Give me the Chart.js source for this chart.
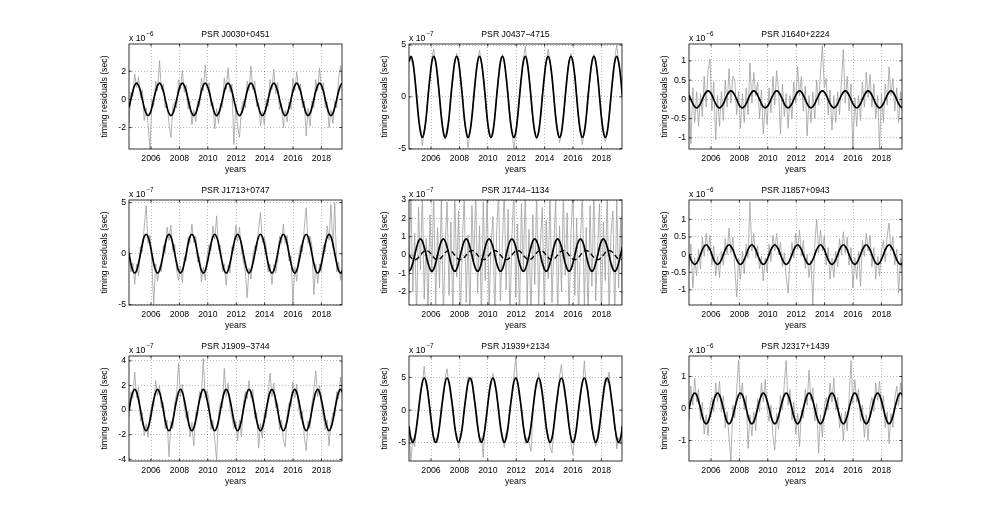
<!DOCTYPE html>
<html><head><meta charset="utf-8">
<script src="https://cdn.jsdelivr.net/npm/chart.js@4/dist/chart.umd.min.js"></script>
<style>
html,body{margin:0;padding:0;background:#fff;}
#wrap{position:relative;width:997px;height:520px;overflow:hidden;background:#fff;}
canvas{position:absolute;}
</style></head><body><div id="wrap"></div>
<script>
// ---------- DATA ----------
const obsYears = [
2004.45,2004.58,2004.72,2004.85,2004.99,2005.12,2005.26,2005.39,2005.52,2005.66,2005.79,2005.93,
2006.06,2006.19,2006.33,2006.46,2006.60,2006.73,2006.87,2007.00,2007.13,2007.27,2007.40,2007.54,
2007.67,2007.81,2007.94,2008.07,2008.21,2008.34,2008.48,2008.61,2008.74,2008.88,2009.01,2009.15,
2009.28,2009.42,2009.55,2009.68,2009.82,2009.95,2010.09,2010.22,2010.36,2010.49,2010.62,2010.76,
2010.89,2011.03,2011.16,2011.29,2011.43,2011.56,2011.70,2011.83,2011.97,2012.10,2012.23,2012.37,
2012.50,2012.64,2012.77,2012.90,2013.04,2013.17,2013.31,2013.44,2013.58,2013.71,2013.84,2013.98,
2014.11,2014.25,2014.38,2014.52,2014.65,2014.78,2014.92,2015.05,2015.19,2015.32,2015.45,2015.59,
2015.72,2015.86,2015.99,2016.13,2016.26,2016.39,2016.53,2016.66,2016.80,2016.93,2017.06,2017.20,
2017.33,2017.47,2017.60,2017.74,2017.87,2018.00,2018.14,2018.27,2018.41,2018.54,2018.67,2018.81,
2018.94,2019.08,2019.21,2019.35,2019.48];

const xTicks = [2006,2008,2010,2012,2014,2016,2018];
const xLim = [2004.45, 2019.45];

const pulsarNames = ['PSR J0030+0451','PSR J0437\u22124715','PSR J1640+2224',
                     'PSR J1713+0747','PSR J1744\u22121134','PSR J1857+0943',
                     'PSR J1909\u22123744','PSR J1939+2134','PSR J2317+1439'];
const exponents = [-6,-7,-6,-7,-7,-6,-7,-7,-6];

const yTicksJ0030 = [-2,0,2];           const yLimJ0030 = [-3.52,3.93];
const yTicksJ0437 = [-5,0,5];           const yLimJ0437 = [-5.02,5.1];
const yTicksJ1640 = [-1,-0.5,0,0.5,1];  const yLimJ1640 = [-1.29,1.44];
const yTicksJ1713 = [-5,0,5];           const yLimJ1713 = [-5.02,5.25];
const yTicksJ1744 = [-2,-1,0,1,2,3];    const yLimJ1744 = [-2.72,3.0];
const yTicksJ1857 = [-1,-0.5,0,0.5,1];  const yLimJ1857 = [-1.43,1.55];
const yTicksJ1909 = [-4,-2,0,2,4];      const yLimJ1909 = [-4.14,4.4];
const yTicksJ1939 = [-5,0,5];           const yLimJ1939 = [-7.75,8.25];
const yTicksJ2317 = [-1,0,1];           const yLimJ2317 = [-1.64,1.64];

// timing residuals (grey), in units of 10^exponent
const resJ0030 = [
-1.8,.5,.2,1.8,.85,1.6,.1,.7,-1.5,-.6,-1.75,-3.5,
0,-.5,1.3,.6,2.75,.7,1.1,-.6,-.3,-1.7,-2.7,-.5,
-.2,-.6,1.4,.7,2.05,.5,1,-.7,-.1,-1.8,-.75,-1.6,
-.1,-.5,1.5,.6,2.45,.8,1.2,-.5,-.2,-2.1,-.65,-1.7,
-.3,-.6,1.5,.7,2.25,.5,1.1,-3.2,-.4,-1.9,-2.7,-.6,
-.1,-.6,1.3,.6,2.35,.7,1.3,-.5,-.2,-1.9,-.85,-1.8,
0,-.5,1.4,.7,2.15,.4,1.2,-.7,-.3,-2,-.75,-1.6,
-.2,-.7,1.5,.6,1.95,.7,1.1,-.6,-.1,-2.6,-.65,-1.9,
-.1,-.6,1.4,.6,2.25,.7,1.2,-.6,-.2,-2,-.75,-1.7,
-.1,-.6,1.5,2.4,.85];
const resJ0437 = [
3.6,3.7,3.1,2.3,-.3,-2.2,-3.1,-4.7,-3.2,-2.2,.3,1.7,
3.7,4.6,3.1,2.2,-.2,-1.7,-3.6,-4.1,-3,-2.3,.4,1.8,
3.2,4.2,3.6,1.7,.3,-2.2,-3.2,-4.9,-3.5,-1.7,-.3,2.2,
3.6,4.5,3.2,2.1,-.2,-2.1,-3.6,-4,-3.1,-2.2,.2,1.7,
3.2,4.1,3.6,1.8,.3,-1.8,-3.2,-5,-3.6,-1.8,-.2,2.1,
3.6,4.9,3.1,2.2,-.3,-2.2,-3.5,-4.1,-3.2,-2.1,.3,1.8,
3.3,4.6,3.5,1.7,.2,-1.8,-3.2,-4.4,-3.6,-1.8,-.2,2.2,
3.5,4.2,3.2,2.1,-.3,-2.1,-3.6,-4.6,-3.1,-2.2,.3,1.8,
3.2,4.1,3.6,1.8,.2,-1.8,-3.2,-4.3,-3.5,-1.7,-.2,2.2,
3.7,5,3.3,2.1,.1];
const resJ1640 = [
.4,-1.15,.3,-.6,.2,-.7,.15,-.45,.6,-.2,.75,1.05,
-.3,.45,-1.05,.1,-.7,.2,-.55,.5,-.2,.8,-.1,.6,
.5,-.4,.2,-.75,.15,-.6,.3,-.4,.95,-.1,.7,.1,
.45,-.5,.25,-.9,-.1,-.65,.3,-.35,.6,-.15,.75,.2,
-.9,.4,-.45,.15,-.75,.1,-.5,.45,-.1,.85,.1,.6,
-.3,.35,-.95,.1,-.6,.2,-.5,.5,-.15,.7,1.4,.3,
.55,-.4,.25,-.8,.1,-.6,.2,-.4,.5,1.3,-.1,.6,
-.3,.4,-1.35,.05,-.7,.1,-.55,.45,-.2,.7,.05,.65,
-.2,.4,-.5,.1,-1.3,.15,-.6,.4,-.15,.85,.1,.55,
-.3,.3,-.6,.2,-.4];
const resJ1713 = [
.6,-1.8,-.9,-3,-1,-2.2,.7,.2,2.6,4.7,1,1.8,
-.8,-5,-1,-2.7,-1.2,-1.8,.8,.1,2.6,1.3,2.8,.2,
.9,-1.7,-2.6,-1.2,-2.8,-.3,-.7,1.6,1,2.9,1.1,1.7,
-.8,-.3,-2.8,-1.3,-2.6,-.2,.9,.3,2.7,1.4,3.7,.4,
.8,-1.8,-1,-3.1,-1.1,-1.9,.7,.3,2.8,1.2,2.6,.3,
-.8,-1.7,-4.3,-1.4,-2.5,-.3,.8,.3,2.5,4,1.1,1.6,
.7,-1.8,-1,-3,-1.1,-1.9,-.6,1.7,1,2.9,1,1.8,
-.7,-.2,-4.8,-1.3,-2.7,-.3,.8,.2,2.6,4.5,1,1.7,
.8,-4,-1,-2.9,-1,-1.8,.8,.2,2.7,1.3,4.8,.5,
5,-1.8,-.8,-2.6,-1.2];
const resJ1744 = [
-1.5,3.4,-2,1.2,-3.5,2.6,-.8,3.5,-2.4,.9,-3.2,2.2,
-1,3.5,-2.8,1.5,-1.8,3.3,-3.5,.6,2.9,-2.2,1.8,-3.4,
3.5,-1.2,2.4,-3.5,.8,3.2,-2.6,1.1,-3.5,2.7,-.5,3.5,
-2.1,1.6,-3.5,2.9,-1.4,3.5,-2.9,.4,2.1,-3.5,1.3,3.4,
-2.5,.7,3.5,-1.9,2.5,-3.5,1,3.5,-2.3,1.7,-3.5,2.8,
-.9,3.5,-2.7,1.4,-3.5,2.2,-1.6,3.5,-3,.8,2.6,-3.5,
1.9,-1.3,3.5,-2.6,.5,3.1,-3.5,1.6,-2,3.5,-1.1,2.3,
-3.5,1.2,3.5,-2.2,2,-3.5,.9,3.3,-2.8,1.5,-3.5,2.7,
-1.7,3.5,-2.5,.6,2.8,-3.5,1.8,-1.4,3.5,-3.5,1.1,2.4,
-3.5,3.2,-1.8,2,-3.5];
const resJ1857 = [
-.4,.3,-.95,-.1,-.6,.15,-.4,.5,-.05,.6,.1,.55,
-.3,.25,-.6,-.05,-.65,.1,-.3,.45,0,.75,.05,.5,
-.35,-1.2,-.1,-.7,.1,-.55,.3,-.1,1.5,.1,.6,-.1,
.25,-.4,-.05,-.75,-.1,-.5,.3,-.2,.55,.1,.6,0,
.35,-.35,.05,-.6,-1.1,-.2,.35,-.1,.6,.15,.7,-.05,
.4,-.4,0,-.65,-.15,-1.43,.3,1,.05,.7,.1,.55,
-.3,.2,-.7,-.1,-.65,.1,-.35,.45,0,.65,.05,.5,
-.3,.2,-.95,-.1,-.7,.1,-.9,.4,-.05,.6,.1,.55,
-.35,.2,-.7,-.05,-.6,.1,.4,-.2,.55,.9,.1,.5,
-.3,.15,-1.1,-.1,-.5];
const resJ1909 = [
-.6,1.5,1,3.1,1,1.9,-.9,-.2,-2.1,-1.1,-2.2,-.3,
.5,.3,2.4,1.2,2,.2,.6,-1.5,-.8,-3.8,-.9,-1.5,
.6,1.4,3.8,1.1,2.1,.3,-.7,-.1,-2.2,-1,-2.9,-.2,
-.5,1.5,1,4.2,1,1.6,.7,-1.6,-.8,-2.4,-4.1,-.3,
.6,.2,3.4,1.1,2.2,.2,-.6,-1.5,-.9,-2.5,-.8,-2.2,
.5,1.5,.9,2.4,1,1.7,-.7,-.2,-3.1,-1.1,-2.3,-.2,
-.6,1.4,3,1.1,2.2,.2,.6,-1.6,-.8,-2.4,-3,-.3,
.6,.3,2.3,1,2.1,.2,-.7,-.1,-2.2,-3.3,-.9,-1.5,
.5,1.6,3.2,1.1,2,.3,-.6,-1.6,-.8,-2.9,-1,-.2,
-.5,1.5,.9,2.7,1.1];
const resJ1939 = [
-3.2,-7.7,-4.3,-5.6,-1.8,-.7,3.2,3.8,6.7,3.6,3.1,-.6,
-1.8,-4.9,-4.3,-5,-1.9,.7,1.8,5,6.3,3.7,1.8,.8,
-3.1,-3.7,-5.8,-3.6,-3.2,.6,1.9,5.1,4.3,5,1.7,.7,
-1.8,-5,-4.2,-7.2,-1.8,-.7,3.2,3.6,5.6,3.5,3.1,-.8,
-3,-3.6,-5.7,-3.5,-3.1,.6,1.8,5,8,3.7,1.8,.7,
-1.9,-5.1,-4.2,-5,-6.3,-.8,3.1,3.5,5.7,3.4,3,-.6,
-3.1,-3.6,-5.6,-6.5,-3,.7,1.8,5.1,7,3.6,1.9,.6,
-1.8,-5,-6.8,-3.6,-3.2,.6,3,3.6,7.5,3.5,3.1,-.7,
-3,-3.7,-5.6,-3.5,-1.8,-.7,3.1,5,4.2,5.8,1.8,.7,
-1.9,-5.9,-4.2,-5.2,-1.7];
const resJ2317 = [
-.4,.7,.1,.95,.2,.6,-.35,.2,-.8,-.2,-.85,.1,
.35,-.1,.8,.2,.85,-.1,.4,-.6,-.1,-.9,-1.64,.1,
-.3,.6,1.5,.3,.8,-.05,.4,-1.25,-.2,-.85,-.1,-.7,
.3,-.1,.8,.2,.9,0,-.4,.1,-.85,-1.3,-.15,-.65,
.4,-.05,.75,1.5,.1,.6,-.35,.2,-.8,-.15,-1.2,-.05,
-.3,.6,.1,1.2,.25,.65,-.4,.15,-1.4,-.2,-.9,.05,
.35,-.05,.8,.2,.95,-.05,.35,-.6,-.15,-1,-.1,-.7,
.3,1.5,.15,.9,.2,.6,-.4,.1,-.9,-.2,-1,.05,
.35,-.1,.8,.25,.85,-.05,.4,-.6,-.1,-1.1,-.15,-.6,
.3,.7,.1,.8,.35];

// fitted signal (black), same epochs
const fitJ0030 = [
-.58,0,.58,1,1.15,1,.58,0,-.58,-1,-1.15,-1,
-.58,0,.58,1,1.15,1,.58,0,-.58,-1,-1.15,-1,
-.58,0,.58,1,1.15,1,.58,0,-.58,-1,-1.15,-1,
-.58,0,.58,1,1.15,1,.58,0,-.58,-1,-1.15,-1,
-.58,0,.58,1,1.15,1,.58,0,-.58,-1,-1.15,-1,
-.58,0,.58,1,1.15,1,.58,0,-.58,-1,-1.15,-1,
-.58,0,.58,1,1.15,1,.58,0,-.58,-1,-1.15,-1,
-.58,0,.58,1,1.15,1,.58,0,-.58,-1,-1.15,-1,
-.58,0,.58,1,1.15,1,.58,0,-.58,-1,-1.15,-1,
-.58,0,.58,1,1.15];
const fitJ0437 = [
3.38,3.9,3.38,1.95,0,-1.95,-3.38,-3.9,-3.38,-1.95,0,1.95,
3.38,3.9,3.38,1.95,0,-1.95,-3.38,-3.9,-3.38,-1.95,0,1.95,
3.38,3.9,3.38,1.95,0,-1.95,-3.38,-3.9,-3.38,-1.95,0,1.95,
3.38,3.9,3.38,1.95,0,-1.95,-3.38,-3.9,-3.38,-1.95,0,1.95,
3.38,3.9,3.38,1.95,0,-1.95,-3.38,-3.9,-3.38,-1.95,0,1.95,
3.38,3.9,3.38,1.95,0,-1.95,-3.38,-3.9,-3.38,-1.95,0,1.95,
3.38,3.9,3.38,1.95,0,-1.95,-3.38,-3.9,-3.38,-1.95,0,1.95,
3.38,3.9,3.38,1.95,0,-1.95,-3.38,-3.9,-3.38,-1.95,0,1.95,
3.38,3.9,3.38,1.95,0,-1.95,-3.38,-3.9,-3.38,-1.95,0,1.95,
3.38,3.9,3.38,1.95,0];
const fitJ1640 = [
.11,0,-.11,-.19,-.22,-.19,-.11,0,.11,.19,.22,.19,
.11,0,-.11,-.19,-.22,-.19,-.11,0,.11,.19,.22,.19,
.11,0,-.11,-.19,-.22,-.19,-.11,0,.11,.19,.22,.19,
.11,0,-.11,-.19,-.22,-.19,-.11,0,.11,.19,.22,.19,
.11,0,-.11,-.19,-.22,-.19,-.11,0,.11,.19,.22,.19,
.11,0,-.11,-.19,-.22,-.19,-.11,0,.11,.19,.22,.19,
.11,0,-.11,-.19,-.22,-.19,-.11,0,.11,.19,.22,.19,
.11,0,-.11,-.19,-.22,-.19,-.11,0,.11,.19,.22,.19,
.11,0,-.11,-.19,-.22,-.19,-.11,0,.11,.19,.22,.19,
.11,0,-.11,-.19,-.22];
const fitJ1713 = [
0,-.95,-1.65,-1.9,-1.65,-.95,0,.95,1.65,1.9,1.65,.95,
0,-.95,-1.65,-1.9,-1.65,-.95,0,.95,1.65,1.9,1.65,.95,
0,-.95,-1.65,-1.9,-1.65,-.95,0,.95,1.65,1.9,1.65,.95,
0,-.95,-1.65,-1.9,-1.65,-.95,0,.95,1.65,1.9,1.65,.95,
0,-.95,-1.65,-1.9,-1.65,-.95,0,.95,1.65,1.9,1.65,.95,
0,-.95,-1.65,-1.9,-1.65,-.95,0,.95,1.65,1.9,1.65,.95,
0,-.95,-1.65,-1.9,-1.65,-.95,0,.95,1.65,1.9,1.65,.95,
0,-.95,-1.65,-1.9,-1.65,-.95,0,.95,1.65,1.9,1.65,.95,
0,-.95,-1.65,-1.9,-1.65,-.95,0,.95,1.65,1.9,1.65,.95,
0,-.95,-1.65,-1.9,-1.65];
const fitJ1744 = [
-.88,-.76,-.44,0,.44,.76,.88,.76,.44,0,-.44,-.76,
-.88,-.76,-.44,0,.44,.76,.88,.76,.44,0,-.44,-.76,
-.88,-.76,-.44,0,.44,.76,.88,.76,.44,0,-.44,-.76,
-.88,-.76,-.44,0,.44,.76,.88,.76,.44,0,-.44,-.76,
-.88,-.76,-.44,0,.44,.76,.88,.76,.44,0,-.44,-.76,
-.88,-.76,-.44,0,.44,.76,.88,.76,.44,0,-.44,-.76,
-.88,-.76,-.44,0,.44,.76,.88,.76,.44,0,-.44,-.76,
-.88,-.76,-.44,0,.44,.76,.88,.76,.44,0,-.44,-.76,
-.88,-.76,-.44,0,.44,.76,.88,.76,.44,0,-.44,-.76,
-.88,-.76,-.44,0,.44];
const dashJ1744 = [
0,-.13,-.22,-.25,-.22,-.13,0,.13,.22,.25,.22,.13,
0,-.13,-.22,-.25,-.22,-.13,0,.13,.22,.25,.22,.13,
0,-.13,-.22,-.25,-.22,-.13,0,.13,.22,.25,.22,.13,
0,-.13,-.22,-.25,-.22,-.13,0,.13,.22,.25,.22,.13,
0,-.13,-.22,-.25,-.22,-.13,0,.13,.22,.25,.22,.13,
0,-.13,-.22,-.25,-.22,-.13,0,.13,.22,.25,.22,.13,
0,-.13,-.22,-.25,-.22,-.13,0,.13,.22,.25,.22,.13,
0,-.13,-.22,-.25,-.22,-.13,0,.13,.22,.25,.22,.13,
0,-.13,-.22,-.25,-.22,-.13,0,.13,.22,.25,.22,.13,
0,-.13,-.22,-.25,-.22];
const fitJ1857 = [
0,-.14,-.24,-.28,-.24,-.14,0,.14,.24,.28,.24,.14,
0,-.14,-.24,-.28,-.24,-.14,0,.14,.24,.28,.24,.14,
0,-.14,-.24,-.28,-.24,-.14,0,.14,.24,.28,.24,.14,
0,-.14,-.24,-.28,-.24,-.14,0,.14,.24,.28,.24,.14,
0,-.14,-.24,-.28,-.24,-.14,0,.14,.24,.28,.24,.14,
0,-.14,-.24,-.28,-.24,-.14,0,.14,.24,.28,.24,.14,
0,-.14,-.24,-.28,-.24,-.14,0,.14,.24,.28,.24,.14,
0,-.14,-.24,-.28,-.24,-.14,0,.14,.24,.28,.24,.14,
0,-.14,-.24,-.28,-.24,-.14,0,.14,.24,.28,.24,.14,
0,-.14,-.24,-.28,-.24];
const fitJ1909 = [
0,.84,1.45,1.68,1.45,.84,0,-.84,-1.45,-1.68,-1.45,-.84,
0,.84,1.45,1.68,1.45,.84,0,-.84,-1.45,-1.68,-1.45,-.84,
0,.84,1.45,1.68,1.45,.84,0,-.84,-1.45,-1.68,-1.45,-.84,
0,.84,1.45,1.68,1.45,.84,0,-.84,-1.45,-1.68,-1.45,-.84,
0,.84,1.45,1.68,1.45,.84,0,-.84,-1.45,-1.68,-1.45,-.84,
0,.84,1.45,1.68,1.45,.84,0,-.84,-1.45,-1.68,-1.45,-.84,
0,.84,1.45,1.68,1.45,.84,0,-.84,-1.45,-1.68,-1.45,-.84,
0,.84,1.45,1.68,1.45,.84,0,-.84,-1.45,-1.68,-1.45,-.84,
0,.84,1.45,1.68,1.45,.84,0,-.84,-1.45,-1.68,-1.45,-.84,
0,.84,1.45,1.68,1.45];
const fitJ1939 = [
-2.45,-4.24,-4.9,-4.24,-2.45,0,2.45,4.24,4.9,4.24,2.45,0,
-2.45,-4.24,-4.9,-4.24,-2.45,0,2.45,4.24,4.9,4.24,2.45,0,
-2.45,-4.24,-4.9,-4.24,-2.45,0,2.45,4.24,4.9,4.24,2.45,0,
-2.45,-4.24,-4.9,-4.24,-2.45,0,2.45,4.24,4.9,4.24,2.45,0,
-2.45,-4.24,-4.9,-4.24,-2.45,0,2.45,4.24,4.9,4.24,2.45,0,
-2.45,-4.24,-4.9,-4.24,-2.45,0,2.45,4.24,4.9,4.24,2.45,0,
-2.45,-4.24,-4.9,-4.24,-2.45,0,2.45,4.24,4.9,4.24,2.45,0,
-2.45,-4.24,-4.9,-4.24,-2.45,0,2.45,4.24,4.9,4.24,2.45,0,
-2.45,-4.24,-4.9,-4.24,-2.45,0,2.45,4.24,4.9,4.24,2.45,0,
-2.45,-4.24,-4.9,-4.24,-2.45];
const fitJ2317 = [
0,.24,.42,.48,.42,.24,0,-.24,-.42,-.48,-.42,-.24,
0,.24,.42,.48,.42,.24,0,-.24,-.42,-.48,-.42,-.24,
0,.24,.42,.48,.42,.24,0,-.24,-.42,-.48,-.42,-.24,
0,.24,.42,.48,.42,.24,0,-.24,-.42,-.48,-.42,-.24,
0,.24,.42,.48,.42,.24,0,-.24,-.42,-.48,-.42,-.24,
0,.24,.42,.48,.42,.24,0,-.24,-.42,-.48,-.42,-.24,
0,.24,.42,.48,.42,.24,0,-.24,-.42,-.48,-.42,-.24,
0,.24,.42,.48,.42,.24,0,-.24,-.42,-.48,-.42,-.24,
0,.24,.42,.48,.42,.24,0,-.24,-.42,-.48,-.42,-.24,
0,.24,.42,.48,.42];

// ---------- LAYOUT / STYLE ----------
const FONT = '"Liberation Sans", Arial, Helvetica, sans-serif';
const colLeft = [129, 409, 689];
const rowTop = [44, 200, 356];
const plotW = 213, plotH = 105;
const padL = 55, padR = 10, padT = 24, padB = 34;

const panels = [
  {res: resJ0030, fit: fitJ0030, dash: null, yt: yTicksJ0030, yl: yLimJ0030},
  {res: resJ0437, fit: fitJ0437, dash: null, yt: yTicksJ0437, yl: yLimJ0437},
  {res: resJ1640, fit: fitJ1640, dash: null, yt: yTicksJ1640, yl: yLimJ1640},
  {res: resJ1713, fit: fitJ1713, dash: null, yt: yTicksJ1713, yl: yLimJ1713},
  {res: resJ1744, fit: fitJ1744, dash: dashJ1744, yt: yTicksJ1744, yl: yLimJ1744},
  {res: resJ1857, fit: fitJ1857, dash: null, yt: yTicksJ1857, yl: yLimJ1857},
  {res: resJ1909, fit: fitJ1909, dash: null, yt: yTicksJ1909, yl: yLimJ1909},
  {res: resJ1939, fit: fitJ1939, dash: null, yt: yTicksJ1939, yl: yLimJ1939},
  {res: resJ2317, fit: fitJ2317, dash: null, yt: yTicksJ2317, yl: yLimJ2317}
];

const framePlugin = {
  id: 'frame',
  afterDraw(chart, args, o) {
    const {ctx, chartArea: a} = chart;
    const xs = chart.scales.x, ys = chart.scales.y;
    ctx.save();
    ctx.strokeStyle = '#000';
    ctx.lineWidth = 0.8;
    const tl = 2.5;
    ctx.beginPath();
    o.xt.forEach(v => { const p = xs.getPixelForValue(v);
      ctx.moveTo(p, a.bottom); ctx.lineTo(p, a.bottom - tl);
      ctx.moveTo(p, a.top); ctx.lineTo(p, a.top + tl); });
    o.yt.forEach(v => { const p = ys.getPixelForValue(v);
      ctx.moveTo(a.left, p); ctx.lineTo(a.left + tl, p);
      ctx.moveTo(a.right, p); ctx.lineTo(a.right - tl, p); });
    ctx.stroke();
    ctx.strokeRect(a.left, a.top, a.right - a.left, a.bottom - a.top);
    ctx.fillStyle = '#000';
    ctx.font = '8.7px ' + FONT;
    ctx.textBaseline = 'middle';
    ctx.textAlign = 'center';
    ctx.fillText(o.title, (a.left + a.right) / 2, a.top - 9);
    ctx.textAlign = 'left';
    ctx.fillText('x 10', a.left, a.top - 5);
    const w = ctx.measureText('x 10').width;
    ctx.font = '6.3px ' + FONT;
    ctx.fillText(String(o.exp).replace('-', '\u2212'), a.left + w + 1, a.top - 9.5);
    ctx.restore();
  }
};

const wrap = document.getElementById('wrap');
panels.forEach((p, i) => {
  const col = i % 3, row = Math.floor(i / 3);
  const cw = padL + plotW + padR, ch = padT + plotH + padB;
  const cv = document.createElement('canvas');
  cv.width = cw; cv.height = ch;
  cv.style.left = (colLeft[col] - padL) + 'px';
  cv.style.top = (rowTop[row] - padT) + 'px';
  cv.style.width = cw + 'px'; cv.style.height = ch + 'px';
  wrap.appendChild(cv);

  const pts = arr => arr.map((y, k) => ({x: obsYears[k], y: y}));
  const datasets = [
    {data: pts(p.fit), borderColor: '#000', borderWidth: 1.7, pointRadius: 0, tension: 0.35, fill: false}
  ];
  if (p.dash) datasets.push({data: pts(p.dash), borderColor: '#000', borderWidth: 1.4,
    borderDash: [5, 3], pointRadius: 0, tension: 0.35, fill: false});
  datasets.push({data: pts(p.res), borderColor: 'rgb(158,158,158)', borderWidth: 0.8,
    pointRadius: 0, tension: 0, fill: false});

  const tickFont = {family: FONT, size: 8.7};
  new Chart(cv, {
    type: 'line',
    data: {datasets},
    options: {
      responsive: false, animation: false, events: [],
      layout: {padding: {left: 0, right: padR, top: padT, bottom: 0}},
      plugins: {legend: {display: false}, tooltip: {enabled: false},
        frame: {title: pulsarNames[i], exp: exponents[i], xt: xTicks, yt: p.yt}},
      scales: {
        x: {
          type: 'linear', min: xLim[0], max: xLim[1],
          afterBuildTicks: s => { s.ticks = xTicks.map(v => ({value: v})); },
          afterFit: s => { s.height = padB; },
          grid: {color: 'rgba(0,0,0,0.45)', lineWidth: 0.6, drawTicks: false},
          border: {display: false, dash: [1, 2]},
          ticks: {font: tickFont, color: '#000', padding: 4.5, maxRotation: 0, autoSkip: false,
                  callback: v => String(v)},
          title: {display: true, text: 'years', font: tickFont, color: '#000', padding: {top: 0, bottom: 8}}
        },
        y: {
          type: 'linear', min: p.yl[0], max: p.yl[1],
          afterBuildTicks: s => { s.ticks = p.yt.map(v => ({value: v})); },
          afterFit: s => { s.width = padL; },
          grid: {color: 'rgba(0,0,0,0.45)', lineWidth: 0.6, drawTicks: false},
          border: {display: false, dash: [1, 2]},
          ticks: {font: tickFont, color: '#000', padding: 3, autoSkip: false,
                  callback: v => String(v)},
          title: {display: true, text: 'timing residuals (sec)', font: tickFont, color: '#000',
                  padding: {top: 25, bottom: 0}}
        }
      }
    },
    plugins: [framePlugin]
  });
});
</script></body></html>
